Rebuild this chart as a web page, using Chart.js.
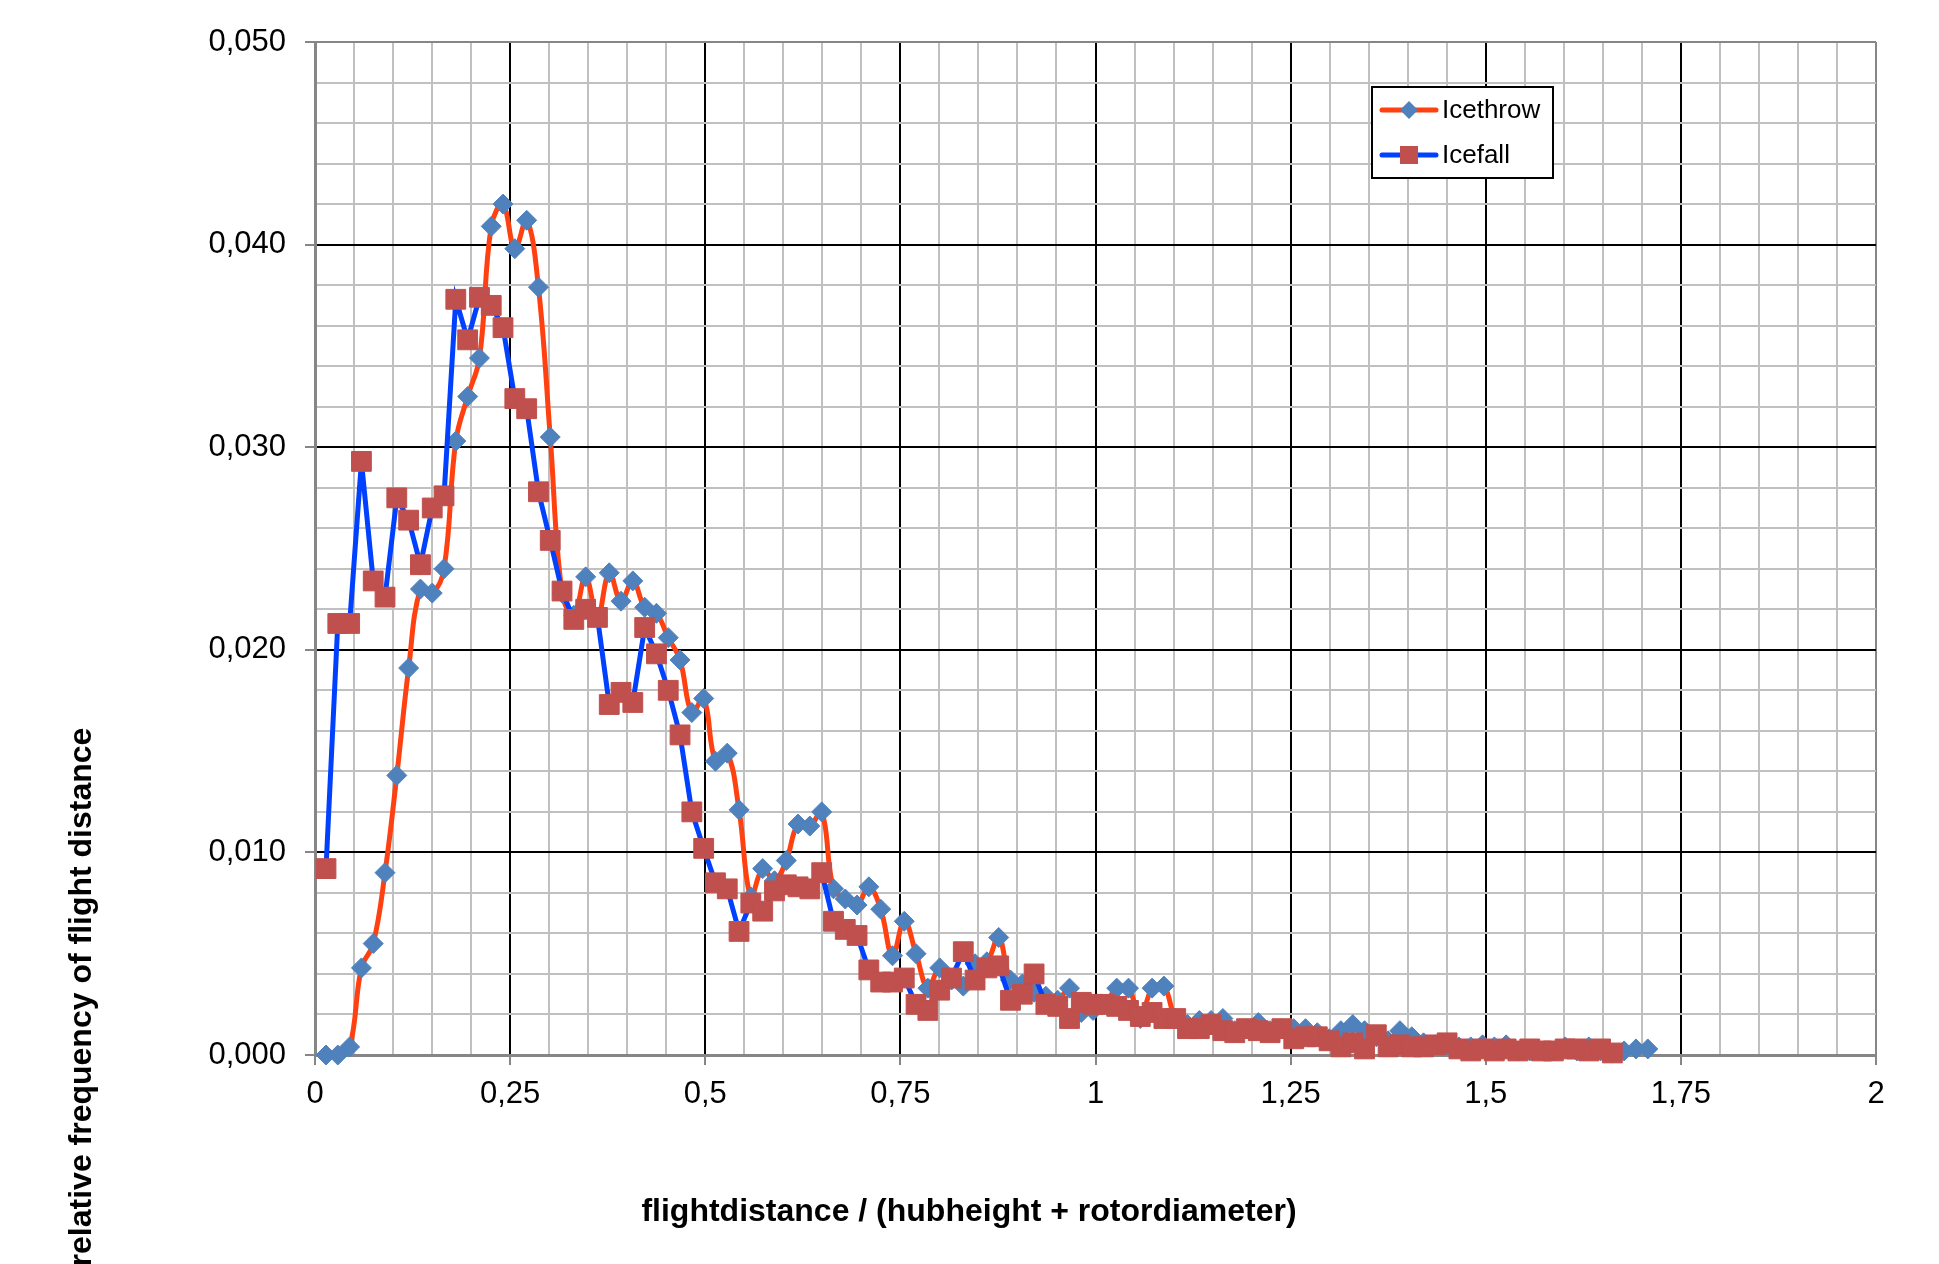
<!DOCTYPE html>
<html>
<head>
<meta charset="utf-8">
<script src="https://cdn.jsdelivr.net/npm/chart.js@4"></script>
<style>
  html, body { margin: 0; padding: 0; background: #ffffff; }
  canvas { display: block; }
</style>
</head>
<body>
<canvas id="c" width="1939" height="1264"></canvas>
<script>
// ---- data ----
const distances = [
  0.0141,0.0292,0.0444,0.0595,0.0746,0.0897,0.1048,0.1200,0.1351,0.1502,
  0.1653,0.1804,0.1956,0.2107,0.2258,0.2409,0.2560,0.2712,0.2863,0.3014,
  0.3165,0.3316,0.3468,0.3619,0.3770,0.3921,0.4072,0.4224,0.4375,0.4526,
  0.4677,0.4828,0.4980,0.5131,0.5282,0.5433,0.5584,0.5736,0.5887,0.6038,
  0.6189,0.6340,0.6492,0.6643,0.6794,0.6945,0.7096,0.7248,0.7399,0.7550,
  0.7701,0.7852,0.8004,0.8155,0.8306,0.8457,0.8608,0.8760,0.8911,0.9062,
  0.9213,0.9364,0.9516,0.9667,0.9818,0.9969,1.0120,1.0272,1.0423,1.0574,
  1.0725,1.0876,1.1028,1.1179,1.1330,1.1481,1.1632,1.1784,1.1935,1.2086,
  1.2237,1.2388,1.2540,1.2691,1.2842,1.2993,1.3144,1.3296,1.3447,1.3598,
  1.3749,1.3900,1.4052,1.4203,1.4354,1.4505,1.4656,1.4808,1.4959,1.5110,
  1.5261,1.5412,1.5564,1.5715,1.5866,1.6017,1.6168,1.6320,1.6471,1.6622,
  1.6773,1.6924,1.7076
];
const icethrow = [
  0.0000,0.0000,0.0004,0.0043,0.0055,0.0090,0.0138,0.0191,0.0230,0.0228,
  0.0240,0.0303,0.0325,0.0344,0.0409,0.0420,0.0398,0.0412,0.0379,0.0305,
  0.0228,0.0217,0.0236,0.0216,0.0238,0.0224,0.0234,0.0221,0.0218,0.0206,
  0.0195,0.0169,0.0176,0.0145,0.0149,0.0121,0.0078,0.0092,0.0086,0.0096,
  0.0114,0.0113,0.0120,0.0082,0.0077,0.0074,0.0083,0.0072,0.0049,0.0066,
  0.0050,0.0033,0.0043,0.0037,0.0034,0.0045,0.0046,0.0058,0.0037,0.0035,
  0.0031,0.0029,0.0027,0.0033,0.0021,0.0022,0.0025,0.0033,0.0033,0.0018,
  0.0033,0.0034,0.0018,0.0015,0.0017,0.0017,0.0018,0.0012,0.0013,0.0016,
  0.0012,0.0013,0.0013,0.0013,0.0011,0.0008,0.0012,0.0015,0.0012,0.0009,
  0.0007,0.0012,0.0009,0.0006,0.0005,0.0005,0.0004,0.0004,0.0005,0.0004,
  0.0005,0.0002,0.0002,0.0002,0.0002,0.0004,0.0002,0.0004,0.0002,0.0001,
  0.0002,0.0003,0.0003
];
const icefall = [
  0.0092,0.0213,0.0213,0.0293,0.0234,0.0226,0.0275,0.0264,0.0242,0.0270,
  0.0276,0.0373,0.0353,0.0374,0.0370,0.0359,0.0324,0.0319,0.0278,0.0254,
  0.0229,0.0215,0.0220,0.0216,0.0173,0.0179,0.0174,0.0211,0.0198,0.0180,
  0.0158,0.0120,0.0102,0.0085,0.0082,0.0061,0.0075,0.0071,0.0081,0.0084,
  0.0083,0.0082,0.0090,0.0066,0.0062,0.0059,0.0042,0.0036,0.0036,0.0038,
  0.0025,0.0022,0.0032,0.0038,0.0051,0.0037,0.0043,0.0044,0.0027,0.0030,
  0.0040,0.0025,0.0024,0.0018,0.0026,0.0025,0.0025,0.0024,0.0022,0.0019,
  0.0021,0.0018,0.0018,0.0013,0.0013,0.0015,0.0012,0.0011,0.0013,0.0012,
  0.0011,0.0013,0.0008,0.0009,0.0009,0.0007,0.0004,0.0006,0.0003,0.0010,
  0.0004,0.0005,0.0004,0.0004,0.0005,0.0006,0.0003,0.0002,0.0003,0.0002,
  0.0003,0.0002,0.0003,0.0002,0.0002,0.0003,0.0003,0.0002,0.0003,0.0001
];
const xTickLabels = ['0','0,25','0,5','0,75','1','1,25','1,5','1,75','2'];
const yTickLabels = ['0,000','0,010','0,020','0,030','0,040','0,050'];
const seriesNames = ['Icethrow','Icefall'];
const xTitle = 'flightdistance / (hubheight + rotordiameter)';
const yTitle = 'relative frequency of flight distance';

// ---- styling ----
const FONT = "'Liberation Sans', Arial, sans-serif";
const ORANGE = '#FF4010';
const BLUE = '#0040FF';
const DIAMOND = '#4F81BD';
const SQUARE = '#C0504D';
const AXIS_GRAY = '#868686';
const MINOR_GRAY = '#C0C0C0';

function majorIndex(v, step) {
  const k = v / step;
  const r = Math.round(k);
  return Math.abs(k - r) < 1e-6 ? r : -1;
}

const overlayPlugin = {
  id: 'overlay',
  afterDraw(chart) {
    const ctx = chart.ctx;
    const ca = chart.chartArea;
    ctx.save();
    // axis titles
    ctx.fillStyle = '#000';
    ctx.font = "bold 32px " + FONT;
    ctx.textAlign = 'center';
    ctx.textBaseline = 'middle';
    ctx.fillText(xTitle, 969, 1212);
    ctx.save();
    ctx.translate(82, 997);
    ctx.rotate(-Math.PI / 2);
    ctx.fillText(yTitle, 0, 0);
    ctx.restore();

    // legend box inside the plot
    const bx = ca.left + 1057, by = ca.top + 45, bw = 181, bh = 91;
    ctx.fillStyle = '#fff';
    ctx.fillRect(bx, by, bw, bh);
    ctx.lineWidth = 2;
    ctx.strokeStyle = '#000';
    ctx.strokeRect(bx, by, bw, bh);
    const rows = [
      { name: seriesNames[0], line: ORANGE, fill: DIAMOND, shape: 'diamond', y: by + 23 },
      { name: seriesNames[1], line: BLUE, fill: SQUARE, shape: 'square', y: by + 68 }
    ];
    rows.forEach(r => {
      ctx.strokeStyle = r.line;
      ctx.lineWidth = 5;
      ctx.lineCap = 'round';
      ctx.beginPath();
      ctx.moveTo(bx + 10, r.y);
      ctx.lineTo(bx + 64, r.y);
      ctx.stroke();
      const mx = bx + 37;
      ctx.fillStyle = r.fill;
      ctx.beginPath();
      if (r.shape === 'diamond') {
        ctx.moveTo(mx - 9, r.y); ctx.lineTo(mx, r.y - 9);
        ctx.lineTo(mx + 9, r.y); ctx.lineTo(mx, r.y + 9);
        ctx.closePath();
      } else {
        ctx.rect(mx - 9, r.y - 9, 18, 18);
      }
      ctx.fill();
      ctx.fillStyle = '#000';
      ctx.font = "26px " + FONT;
      ctx.textAlign = 'left';
      ctx.textBaseline = 'middle';
      ctx.fillText(r.name, bx + 70, r.y + 1);
    });
    ctx.restore();
  }
};

new Chart(document.getElementById('c'), {
  type: 'line',
  data: {
    datasets: [
      {
        label: seriesNames[0],
        data: distances.map((x, i) => ({ x: x, y: icethrow[i] })),
        borderColor: ORANGE,
        borderWidth: 5,
        tension: 0.4,
        pointStyle: 'rectRot',
        pointRadius: 10,
        pointBackgroundColor: DIAMOND,
        pointBorderColor: DIAMOND,
        pointBorderWidth: 1,
        clip: false,
        order: 1
      },
      {
        label: seriesNames[1],
        data: icefall.map((y, i) => ({ x: distances[i], y: y })),
        borderColor: BLUE,
        borderWidth: 5,
        tension: 0,
        pointStyle: 'rect',
        pointRadius: 14,
        pointBackgroundColor: SQUARE,
        pointBorderColor: SQUARE,
        pointBorderWidth: 1,
        clip: false,
        order: 0
      }
    ]
  },
  options: {
    responsive: false,
    devicePixelRatio: 1,
    animation: false,
    layout: { padding: { left: 0, top: 42, right: 63, bottom: 0 } },
    plugins: {
      legend: { display: false },
      tooltip: { enabled: false },
      title: { display: false }
    },
    scales: {
      x: {
        type: 'linear',
        min: 0,
        max: 2,
        afterFit(scale) { scale.height = 209; },
        border: { display: true, color: AXIS_GRAY, width: 3 },
        grid: {
          color: c => {
            const v = c.tick.value;
            if (v <= 1e-9 || v >= 2 - 1e-9) return AXIS_GRAY;
            return majorIndex(v, 0.25) >= 0 ? '#000000' : MINOR_GRAY;
          },
          lineWidth: 2,
          tickLength: 10,
          tickWidth: 2,
          tickColor: c => majorIndex(c.tick.value, 0.25) >= 0 ? AXIS_GRAY : 'rgba(0,0,0,0)'
        },
        ticks: {
          stepSize: 0.05,
          maxTicksLimit: 100,
          autoSkip: false,
          maxRotation: 0,
          minRotation: 0,
          padding: 11,
          color: '#000',
          font: { family: FONT, size: 31 },
          callback: v => { const k = majorIndex(v, 0.25); return k >= 0 ? xTickLabels[k] : ''; }
        }
      },
      y: {
        type: 'linear',
        min: 0,
        max: 0.05,
        afterFit(scale) { scale.width = 315; },
        border: { display: true, color: AXIS_GRAY, width: 3 },
        grid: {
          color: c => {
            const v = c.tick.value;
            if (v <= 1e-9 || v >= 0.05 - 1e-9) return AXIS_GRAY;
            return majorIndex(v, 0.01) >= 0 ? '#000000' : MINOR_GRAY;
          },
          lineWidth: 2,
          tickLength: 10,
          tickWidth: 2,
          tickColor: c => majorIndex(c.tick.value, 0.01) >= 0 ? AXIS_GRAY : 'rgba(0,0,0,0)'
        },
        ticks: {
          stepSize: 0.002,
          maxTicksLimit: 100,
          autoSkip: false,
          padding: 19,
          color: '#000',
          font: { family: FONT, size: 31 },
          callback: v => { const k = majorIndex(v, 0.01); return k >= 0 ? yTickLabels[k] : ''; }
        }
      }
    }
  },
  plugins: [overlayPlugin]
});
</script>
</body>
</html>
